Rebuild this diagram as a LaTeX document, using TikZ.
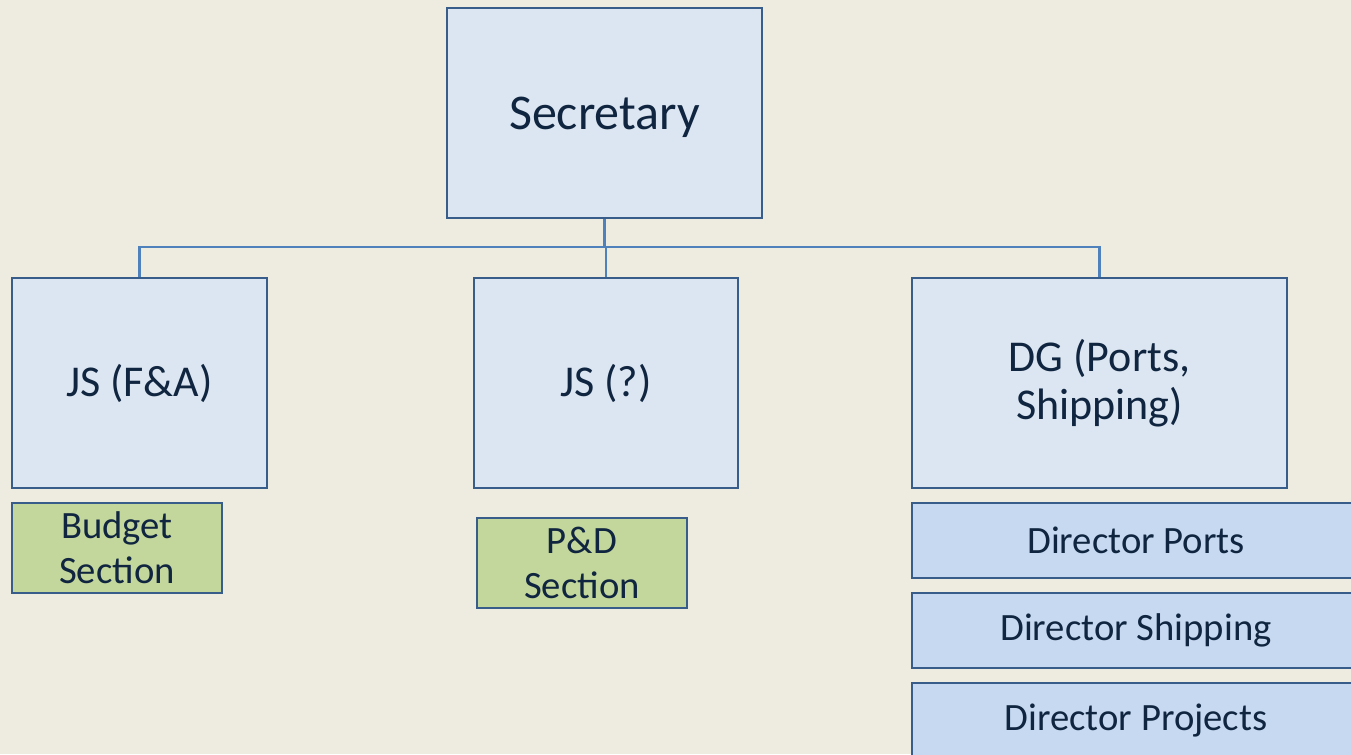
\documentclass[tikz,border=0pt]{standalone}
\usepackage{fontspec}
\setmainfont{Carlito}
\definecolor{pagebg}{RGB}{238,236,225}
\definecolor{boxline}{RGB}{56,93,138}
\definecolor{boxfill}{RGB}{220,230,242}
\definecolor{dirfill}{RGB}{198,217,241}
\definecolor{secfill}{RGB}{195,214,155}
\definecolor{barline}{RGB}{79,129,189}
\definecolor{ink}{RGB}{16,37,63}
\tikzset{every picture/.style={line width=0.75pt}}
\tikzset{
	unitbox/.style={draw=boxline, line width=1.9pt, fill=boxfill, text=ink, inner sep=0pt, align=center},
	headbox/.style={unitbox, minimum width=236.25pt, minimum height=157.5pt, text depth=0pt, font=\fontsize{37.5}{45}\selectfont},
	jsbox/.style={unitbox, minimum height=157.5pt, font=\fontsize{33}{36}\selectfont},
	sectionbox/.style={unitbox, fill=secfill, minimum width=157.5pt, minimum height=67.5pt, font=\fontsize{29}{34}\selectfont},
	directorbox/.style={unitbox, fill=dirfill, minimum width=336pt, minimum height=56.25pt, font=\fontsize{29}{34}\selectfont},
	conn/.style={draw=barline, line width=1.9pt}}

\begin{document}
\begin{tikzpicture}[x=0.75pt,y=0.75pt,yscale=-1,xscale=1]
	%set diagram left start at 0, and has height of 754
	\fill [pagebg] (0,0) rectangle (1351,754);
	\clip (0,0) rectangle (1351,754);

	%Shape: Rectangle [id:dp2210458734] 
	\node [headbox] (sec) at (604.5,113) {Secretary};
	%Shape: Rectangle [id:dp7781320945] 
	\node [jsbox, minimum width=191.25pt] (jsfa) at (139.5,383) {JS (F\&A)};
	%Shape: Rectangle [id:dp4403218876] 
	\node [jsbox, minimum width=198pt] (jsq) at (606,383) {JS (?)};
	%Shape: Rectangle [id:dp9132650471] 
	\node [jsbox, minimum width=281.25pt] (dg) at (1099.5,383) {DG (Ports,\\Shipping)};

	%Shape: Rectangle [id:dp5518032964] 
	\node [sectionbox] (budget) at (117,548) {Budget\\Section};
	%Shape: Rectangle [id:dp3307126649] 
	\node [sectionbox] (pd) at (582,563) {P\&D\\Section};

	%Shape: Rectangle [id:dp6620187403] 
	\node [directorbox] (ports) at (1136,540.5) {Director Ports};
	%Shape: Rectangle [id:dp1289045576] 
	\node [directorbox] (shipping) at (1136,630.5) {Director Shipping};
	%Shape: Rectangle [id:dp8847120395] 
	\node [directorbox] (projects) at (1136,720.5) {Director Projects};

	%Straight Lines [id:da3390172615] 
	\coordinate (bar) at (604.5,247);
	\draw [conn] (sec.south) -- (sec.south |- bar);
	\draw [conn] (jsfa.north) |- (bar) -| (dg.north);
	\draw [conn] (jsq.north) -- (jsq.north |- bar);

\end{tikzpicture}
\end{document}
